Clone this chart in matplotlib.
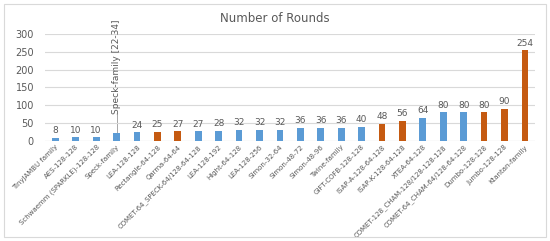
import matplotlib.pyplot as plt

# data
names = ['TinyJAMBU family', 'AES-128-128', 'Schwaemm (SPARKLE)-128-128', 'Speck-family',
         'LEA-128-128', 'Rectangle-64-128', 'Qarma-64-64', 'COMET-64_SPECK-64/128-64-128',
         'LEA-128-192', 'Hight-64-128', 'LEA-128-256', 'Simon-32-64', 'Simon-48-72',
         'Simon-48-96', 'Twine-family', 'GIFT-COFB-128-128', 'ISAP-A-128-64-128',
         'ISAP-K-128-64-128', 'XTEA-64-128', 'COMET-128_CHAM-128/128-128-128',
         'COMET-64_CHAM-64/128-64-128', 'Dumbo-128-128', 'Jumbo-128-128', 'Ktantan-family']
rounds = [8, 10, 10, 22, 24, 25, 27, 27, 28, 32, 32, 32, 36, 36, 36, 40, 48, 56, 64, 80, 80, 80, 90, 254]
group = ['b', 'b', 'b', 'b', 'b', 'o', 'o', 'b', 'b', 'b', 'b', 'b', 'b', 'b', 'b', 'b',
         'o', 'o', 'b', 'b', 'b', 'o', 'o', 'o']
value_labels = [str(v) if n != 'Speck-family' else '' for n, v in zip(names, rounds)]

colors = {'b': '#5B9BD5', 'o': '#C55A11'}
txt = '#595959'

fig = plt.figure(figsize=(5.5, 2.41), dpi=100)
ax = fig.add_axes([0.082, 0.415, 0.891, 0.444])

x = range(len(names))
bars = ax.bar(x, rounds, width=0.33, color=[colors[g] for g in group], zorder=2)
ax.bar_label(bars, labels=value_labels, padding=2, fontsize=6.5, color=txt)

# callout for the Speck family
speck = names.index('Speck-family')
ax.plot([speck, speck], [rounds[speck], 75], color='#A6A6A6', lw=0.7, zorder=1)
ax.text(speck, 76, 'Speck-family [22-34]', rotation=90, ha='center', va='bottom',
        fontsize=6.5, color=txt)

ax.set_xlim(-0.5, len(names) - 0.5)
ax.set_ylim(0, 300)
ax.set_yticks(range(0, 301, 50))
ax.yaxis.grid(True, color='#D9D9D9', lw=0.8, zorder=0)
ax.set_xticks(list(x))
ax.set_xticklabels(names, rotation=45, ha='right', rotation_mode='anchor', fontsize=5, color=txt)
ax.tick_params(axis='y', labelsize=7, colors=txt, length=0, pad=8)
ax.tick_params(axis='x', length=0, pad=2)
for s in ax.spines.values():
    s.set_visible(False)
ax.axhline(0, color='#D9D9D9', lw=0.8, zorder=1)

fig.text(0.5, 0.925, 'Number of Rounds', ha='center', va='center', fontsize=8.5, color=txt)

# light frame around the whole chart
fig.patches.append(plt.Rectangle((0.008, 0.015), 0.984, 0.97, transform=fig.transFigure,
                                 fill=False, edgecolor='#D9D9D9', lw=0.8))

fig.savefig('out.png', dpi=100)
